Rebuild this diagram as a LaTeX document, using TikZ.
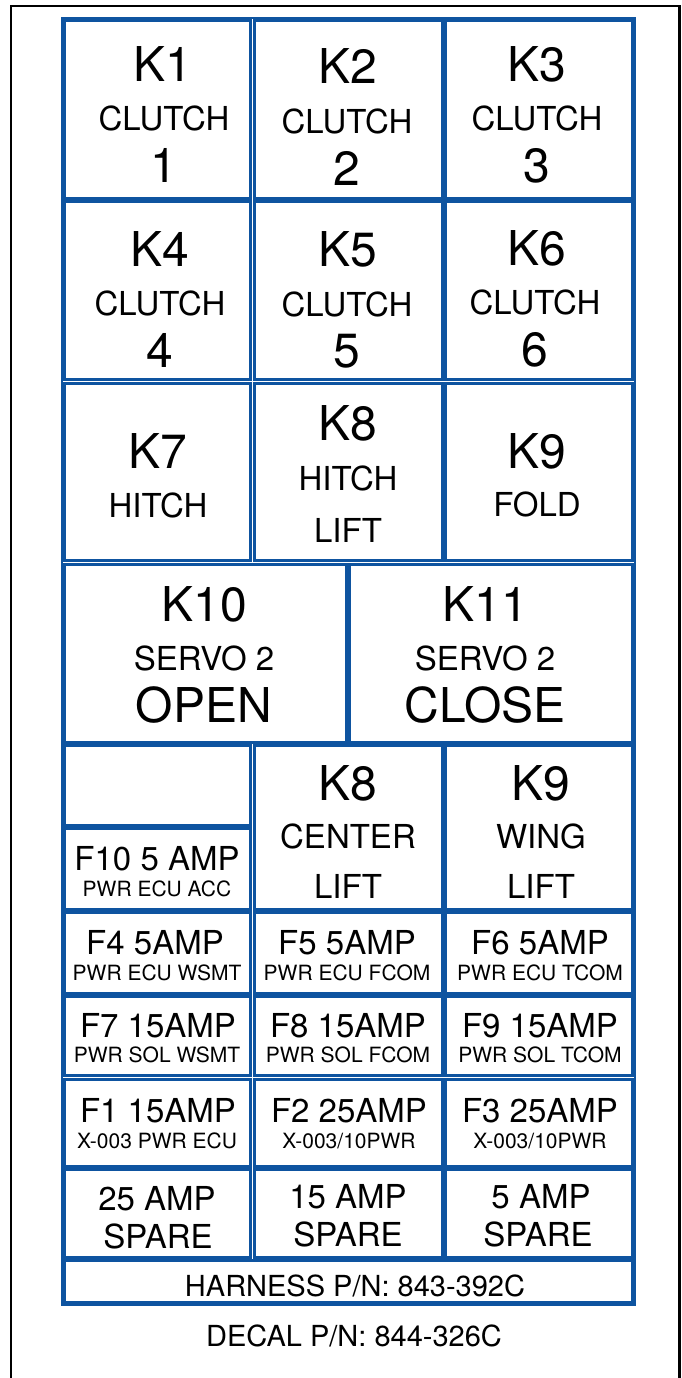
\documentclass[tikz,border=0pt]{standalone}
\usepackage{fontspec}
\setmainfont{TeX Gyre Heros}
\definecolor{panelblue}{RGB}{14,84,160}
\newcommand\fbig{\fontsize{48}{50}\selectfont}
\newcommand\fmid{\fontsize{33}{35}\selectfont}
\newcommand\fsmall{\fontsize{21}{23}\selectfont}
\newcommand\fpn{\fontsize{29}{31}\selectfont}
\newcommand\mkcell[5]{%
  \pgfmathsetmacro\cw{#4-#2-3.4}\pgfmathsetmacro\ch{#5-#3-3.4}%
  \pgfmathsetmacro\cx{(#2+#4)/2}\pgfmathsetmacro\cy{(#3+#5)/2}%
  \node[cellbox, minimum width=\cw pt, minimum height=\ch pt] (#1) at (\cx,\cy) {};}
\begin{document}
\begin{tikzpicture}[x=1pt,y=-1pt,
  cellbox/.style={draw=panelblue, line width=2.8pt, rectangle, inner sep=0pt, outer sep=0pt},
  lbl/.style={anchor=base, inner sep=0pt, outer sep=0pt, text=black},
  big/.style={lbl, font=\fbig},
  mid/.style={lbl, font=\fmid},
  small/.style={lbl, font=\fsmall},
  pn/.style={lbl, font=\fpn}]
\useasboundingbox (0,0) rectangle (682,1378);
\fill[white] (0,0) rectangle (682,1378);
% outer black frame (open at the bottom)
\coordinate (bl) at (11,1390);
\coordinate (tl) at (11,6);
\coordinate (tr) at (679.5,6);
\coordinate (br) at (679.5,1390);
\draw[line width=2.3pt] (bl) -- (tl) -- (tr) -- (br);
% outer blue frame
\node[draw=panelblue, line width=2pt, inner sep=0pt, outer sep=0pt,
      minimum width=573pt, minimum height=1287pt] (frame) at (348.5,661.5) {};
% ---- cells
\def\xa{63}\def\xb{252.5}\def\xc{444}\def\xd{634}
\mkcell{c1}{\xa}{19}{\xb}{200}
\mkcell{c2}{\xb}{19}{\xc}{200}
\mkcell{c3}{\xc}{19}{\xd}{200}
\mkcell{c4}{\xa}{200}{\xb}{381.5}
\mkcell{c5}{\xb}{200}{\xc}{381.5}
\mkcell{c6}{\xc}{200}{\xd}{381.5}
\mkcell{c7}{\xa}{381.5}{\xb}{562.5}
\mkcell{c8}{\xb}{381.5}{\xc}{562.5}
\mkcell{c9}{\xc}{381.5}{\xd}{562.5}
\mkcell{c10}{\xa}{562.5}{348}{744}
\mkcell{c11}{348}{562.5}{\xd}{744}
\mkcell{cblank}{\xa}{744}{\xb}{827}
\mkcell{cf10}{\xa}{827}{\xb}{911}
\mkcell{c8b}{\xb}{744}{\xc}{911}
\mkcell{c9b}{\xc}{744}{\xd}{911}
\mkcell{cf4}{\xa}{911}{\xb}{995}
\mkcell{cf5}{\xb}{911}{\xc}{995}
\mkcell{cf6}{\xc}{911}{\xd}{995}
\mkcell{cf7}{\xa}{995}{\xb}{1077.5}
\mkcell{cf8}{\xb}{995}{\xc}{1077.5}
\mkcell{cf9}{\xc}{995}{\xd}{1077.5}
\mkcell{cf1}{\xa}{1077.5}{\xb}{1168}
\mkcell{cf2}{\xb}{1077.5}{\xc}{1168}
\mkcell{cf3}{\xc}{1077.5}{\xd}{1168}
\mkcell{cs1}{\xa}{1168}{\xb}{1259}
\mkcell{cs2}{\xb}{1168}{\xc}{1259}
\mkcell{cs3}{\xc}{1168}{\xd}{1259}
\mkcell{char}{\xa}{1259}{\xd}{1304}
% ---- row 1
\node[big] (t1a) at (163,82) {K1};
\node[mid] (t1b) at (164,131) {CLUTCH};
\node[big] (t1c) at (164,182) {1};
\node[big] (t2a) at (348,84) {K2};
\node[mid] (t2b) at (347,134) {CLUTCH};
\node[big] (t2c) at (347,185) {2};
\node[big] (t3a) at (537,82) {K3};
\node[mid] (t3b) at (537,131) {CLUTCH};
\node[big] (t3c) at (537,182) {3};
% ---- row 2
\node[big] (t4a) at (160,266) {K4};
\node[mid] (t4b) at (160,315) {CLUTCH};
\node[big] (t4c) at (160,367) {4};
\node[big] (t5a) at (348,266) {K5};
\node[mid] (t5b) at (347,316) {CLUTCH};
\node[big] (t5c) at (347,367) {5};
\node[big] (t6a) at (537,265) {K6};
\node[mid] (t6b) at (535,314) {CLUTCH};
\node[big] (t6c) at (535,366) {6};
% ---- row 3
\node[big] (t7a) at (158,468) {K7};
\node[mid] (t7b) at (158,517) {HITCH};
\node[big] (t8a) at (348,440) {K8};
\node[mid] (t8b) at (348,490) {HITCH};
\node[mid] (t8c) at (348,542) {LIFT};
\node[big] (t9a) at (537,468) {K9};
\node[mid] (t9b) at (537,516) {FOLD};
% ---- row 4
\node[big] (t10a) at (204,621) {K10};
\node[mid] (t10b) at (204,670) {SERVO 2};
\node[big] (t10c) at (204,722) {OPEN};
\node[big] (t11a) at (485,621) {K11};
\node[mid] (t11b) at (485,670) {SERVO 2};
\node[big] (t11c) at (485,722) {CLOSE};
% ---- row 5
\node[big] (t8ba) at (348,800) {K8};
\node[mid] (t8bb) at (348,848) {CENTER};
\node[mid] (t8bc) at (348,898) {LIFT};
\node[big] (t9ba) at (541,800) {K9};
\node[mid] (t9bb) at (541,848) {WING};
\node[mid] (t9bc) at (541,898) {LIFT};
\node[mid] (tf10a) at (157,870) {F10 5 AMP};
\node[small] (tf10b) at (157,896) {PWR ECU ACC};
% ---- fuse rows
\node[mid] (tf4a) at (155,954) {F4 5AMP};
\node[small] (tf4b) at (157,980) {PWR ECU WSMT};
\node[mid] (tf5a) at (347,954) {F5 5AMP};
\node[small] (tf5b) at (347,980) {PWR ECU FCOM};
\node[mid] (tf6a) at (540,954) {F6 5AMP};
\node[small] (tf6b) at (540,980) {PWR ECU TCOM};
\node[mid] (tf7a) at (158,1037) {F7 15AMP};
\node[small] (tf7b) at (157,1062) {PWR SOL WSMT};
\node[mid] (tf8a) at (348,1037) {F8 15AMP};
\node[small] (tf8b) at (348,1062) {PWR SOL FCOM};
\node[mid] (tf9a) at (540,1037) {F9 15AMP};
\node[small] (tf9b) at (540,1062) {PWR SOL TCOM};
\node[mid] (tf1a) at (158,1122) {F1 15AMP};
\node[small] (tf1b) at (157,1148) {X-003 PWR ECU};
\node[mid] (tf2a) at (349,1122) {F2 25AMP};
\node[small] (tf2b) at (349,1148) {X-003/10PWR};
\node[mid] (tf3a) at (540,1122) {F3 25AMP};
\node[small] (tf3b) at (540,1148) {X-003/10PWR};
% ---- spares
\node[mid] (ts1a) at (157,1210) {25 AMP};
\node[mid] (ts1b) at (158,1248) {SPARE};
\node[mid] (ts2a) at (348,1208) {15 AMP};
\node[mid] (ts2b) at (348,1246) {SPARE};
\node[mid] (ts3a) at (541,1208) {5 AMP};
\node[mid] (ts3b) at (538,1246) {SPARE};
% ---- part numbers
\node[pn] (tharn) at (355,1296) {HARNESS P/N: 843-392C};
\node[pn] (tdecal) at (354,1346) {DECAL P/N: 844-326C};
\end{tikzpicture}
\end{document}
